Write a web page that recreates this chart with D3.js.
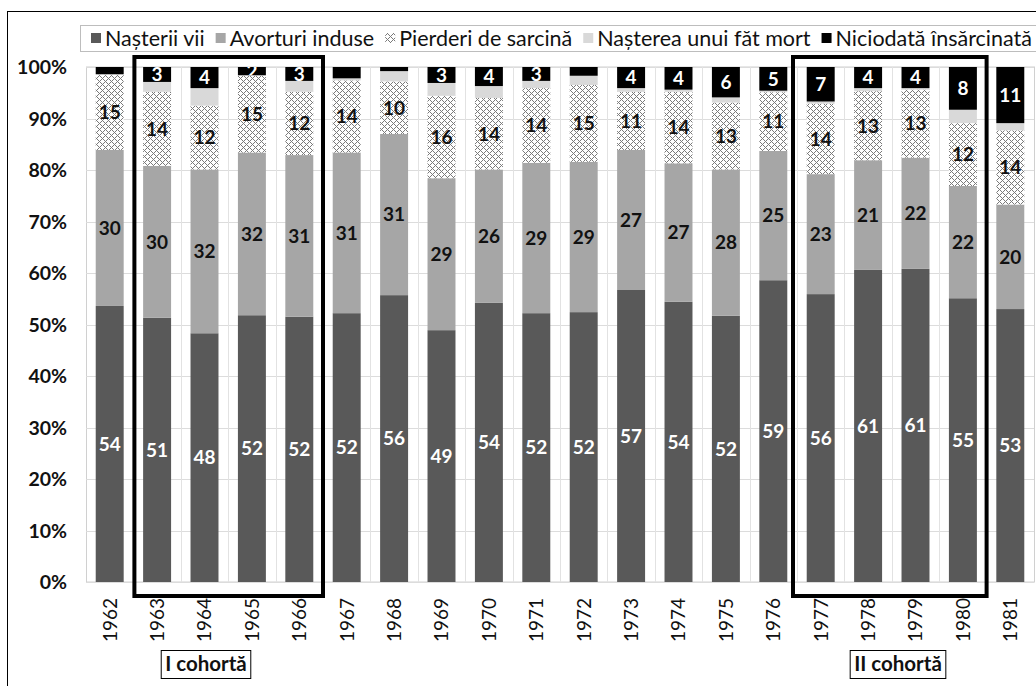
<!DOCTYPE html>
<html>
<head>
<meta charset="utf-8">
<script src="https://cdn.jsdelivr.net/npm/d3@7/dist/d3.min.js"></script>
<style>
  html, body { margin: 0; padding: 0; background: #fff; }
  svg { display: block; font-family: Lato, "Open Sans", sans-serif; }
</style>
</head>
<body>
<svg id="chart" width="1036" height="686"></svg>
<script>
// ---------- DATA ----------
const years = ["1962","1963","1964","1965","1966","1967","1968","1969","1970","1971",
               "1972","1973","1974","1975","1976","1977","1978","1979","1980","1981"];
const seriesNames = ["Nașterii vii", "Avorturi induse", "Pierderi de sarcină",
                     "Nașterea unui făt mort", "Niciodată însărcinată"];
const births     = [53.6,51.3,48.3,51.8,51.5,52.2,55.7,48.9,54.2,52.2,52.4,56.7,54.4,51.7,58.6,55.9,60.6,60.8,55.1,53.0];
const abortions  = [30.3,29.5,31.8,31.6,31.4,31.2,31.3,29.5,25.9,29.2,29.2,27.2,26.9,28.4,25.1,23.3,21.3,21.6,21.8,20.3];
const losses     = [14.6,14.4,12.4,14.9,12.3,14.0,10.2,16.0,13.9,14.5,14.9,11.3,13.9,13.0,11.4,13.7,13.4,13.2,12.2,14.4];
const stillbirth = [0.1,1.9,3.4,0.1,2.1,0.4,2.0,2.5,2.3,1.4,1.8,0.7,0.4,1.0,0.3,0.4,0.6,0.3,2.6,1.4];
const never      = [1.4,2.9,4.1,1.6,2.7,2.2,0.8,3.1,3.7,2.7,1.7,4.1,4.4,5.9,4.6,6.7,4.1,4.1,8.3,10.9];
// labels printed on the segments (null = no label)
const birthLabels    = [54,51,48,52,52,52,56,49,54,52,52,57,54,52,59,56,61,61,55,53];
const abortionLabels = [30,30,32,32,31,31,31,29,26,29,29,27,27,28,25,23,21,22,22,20];
const lossLabels     = [15,14,12,15,12,14,10,16,14,14,15,11,14,13,11,14,13,13,12,14];
const stillLabels    = years.map(() => null);
const neverLabels    = [null,3,4,2,3,null,null,3,4,3,null,4,4,6,5,7,4,4,8,11];
const yTicks = [0,10,20,30,40,50,60,70,80,90,100];
const cohorts = [
  { label: "I cohortă",  from: "1963", to: "1966" },
  { label: "II cohortă", from: "1977", to: "1980" }
];

// ---------- BUILD ----------
const keys = ["births","abortions","losses","stillbirth","never"];
const seriesData = [births, abortions, losses, stillbirth, never];
const seriesLabels = [birthLabels, abortionLabels, lossLabels, stillLabels, neverLabels];
const rows = years.map((y, i) => {
  const r = { year: y, i: i };
  keys.forEach((k, j) => r[k] = seriesData[j][i]);
  return r;
});
const fills = ["#595959", "#a6a6a6", "url(#dots)", "#d9d9d9", "#000000"];
const labelColors = ["#ffffff", "#111111", "#111111", "#111111", "#ffffff"];

const svg = d3.select("#chart");
const plot = { left: 86, right: 1034, top: 67, bottom: 582 };

// pattern for "Pierderi de sarcină"
const defs = svg.append("defs");
const pat = defs.append("pattern").attr("id", "dots")
  .attr("patternUnits", "userSpaceOnUse").attr("width", 6).attr("height", 6);
pat.append("rect").attr("width", 6).attr("height", 6).attr("fill", "#ffffff");
pat.selectAll("rect.d").data([[0,0],[1,1],[2,2],[3,3],[4,4],[5,5],[5,1],[4,2],[2,4],[1,5]])
  .enter().append("rect").attr("class","d")
  .attr("x", d => d[0]).attr("y", d => d[1]).attr("width", 1).attr("height", 1)
  .attr("fill", "#7a7a7a");

// outer border
svg.append("rect").attr("x", 7.5).attr("y", 11.5).attr("width", 1100).attr("height", 700)
  .attr("fill", "none").attr("stroke", "#000").attr("stroke-width", 1);

const x = d3.scaleBand().domain(years).range([plot.left, plot.right]).paddingInner(0.41).paddingOuter(0.205);
const step = x.step();
const y = d3.scaleLinear().domain([0, 100]).range([plot.bottom, plot.top]);

// plot area
svg.append("rect").attr("x", plot.left + 0.5).attr("y", plot.top)
  .attr("width", plot.right - plot.left).attr("height", plot.bottom - plot.top)
  .attr("fill", "none").attr("stroke", "#d0d0d0");

// horizontal grid
svg.append("g").selectAll("line").data(yTicks).enter().append("line")
  .attr("x1", plot.left).attr("x2", plot.right)
  .attr("y1", d => Math.round(y(d)) + 0.5).attr("y2", d => Math.round(y(d)) + 0.5)
  .attr("stroke", "#dcdcdc");
// vertical grid at category boundaries
svg.append("g").selectAll("line").data(years.slice(1)).enter().append("line")
  .attr("x1", d => Math.round(x(d) - (step - x.bandwidth()) / 2) + 0.5)
  .attr("x2", d => Math.round(x(d) - (step - x.bandwidth()) / 2) + 0.5)
  .attr("y1", plot.top).attr("y2", plot.bottom)
  .attr("stroke", "#e2e2e2");

// stacked bars
const stack = d3.stack().keys(keys)(rows);
const layers = svg.append("g").selectAll("g").data(stack).enter().append("g")
  .attr("fill", (d, i) => fills[i]);
layers.selectAll("rect").data(d => d).enter().append("rect")
  .attr("x", d => x(d.data.year))
  .attr("width", x.bandwidth())
  .attr("y", d => y(d[1]))
  .attr("height", d => Math.max(0, y(d[0]) - y(d[1])));

// clip paths (labels on the black segments are cut to the segment, as in 1965)
stack.forEach((layer, li) => {
  layer.forEach((d, i) => {
    defs.append("clipPath").attr("id", `clip-${li}-${i}`)
      .append("rect")
      .attr("x", x(d.data.year) - 5).attr("width", x.bandwidth() + 10)
      .attr("y", li === 4 ? y(d[1]) : y(d[1]) - 30)
      .attr("height", li === 4 ? y(d[0]) - y(d[1]) : y(d[0]) - y(d[1]) + 60);
  });
});

// segment labels
const lab = svg.append("g").attr("font-weight", 700).attr("font-size", 19)
  .attr("text-anchor", "middle");
stack.forEach((layer, li) => {
  layer.forEach((d, i) => {
    const t = seriesLabels[li][i];
    if (t === null || t === undefined) return;
    lab.append("text")
      .attr("clip-path", `url(#clip-${li}-${i})`)
      .attr("x", x(d.data.year) + x.bandwidth() / 2)
      .attr("y", (y(d[0]) + y(d[1])) / 2)
      .attr("dy", "0.36em")
      .attr("fill", labelColors[li])
      .text(t);
  });
});

// y axis labels
svg.append("g").attr("font-weight", 700).attr("font-size", 19.5).attr("text-anchor", "end")
  .selectAll("text").data(yTicks).enter().append("text")
  .attr("x", 67).attr("y", d => y(d)).attr("dy", "0.36em")
  .attr("fill", "#111").text(d => d + "%");

// x axis labels (rotated)
svg.append("g").attr("font-size", 19).attr("text-anchor", "end")
  .selectAll("text").data(years).enter().append("text")
  .attr("transform", d => `translate(${x(d) + x.bandwidth() / 2},${plot.bottom + 16}) rotate(-90)`)
  .attr("dy", "0.36em").attr("fill", "#111").text(d => d);

// cohort boxes
cohorts.forEach((c, ci) => {
  const x0 = x(c.from) - (step - x.bandwidth()) / 2 + (ci === 0 ? 1 : -4);
  const x1 = x(c.to) + x.bandwidth() + (step - x.bandwidth()) / 2;
  svg.append("rect").attr("x", x0).attr("y", 57).attr("width", x1 - x0).attr("height", 539)
    .attr("fill", "none").attr("stroke", "#000").attr("stroke-width", 4);
});
// cohort labels
const cohortCenters = [206, 898];
cohorts.forEach((c, ci) => {
  const g = svg.append("g");
  const t = g.append("text").attr("x", cohortCenters[ci]).attr("y", 664).attr("dy", "0.36em")
    .attr("text-anchor", "middle").attr("font-weight", 700).attr("font-size", 20.5)
    .attr("fill", "#111").text(c.label);
  const bb = t.node().getBBox();
  g.insert("rect", "text").attr("x", bb.x - 4).attr("y", 650.5)
    .attr("width", bb.width + 8).attr("height", 28)
    .attr("fill", "#fff").attr("stroke", "#000").attr("stroke-width", 1);
});

// legend
const lg = svg.append("g");
lg.append("rect").attr("x", 80.5).attr("y", 25.5).attr("width", 1000).attr("height", 26)
  .attr("fill", "#fff").attr("stroke", "#bdbdbd");
let lx = 91;
seriesNames.forEach((n, i) => {
  lg.append("rect").attr("x", lx).attr("y", 33).attr("width", 10).attr("height", 10)
    .attr("fill", fills[i]);
  const t = lg.append("text").attr("x", lx + 14).attr("y", 38.5).attr("dy", "0.36em")
    .attr("font-size", 21.5).attr("fill", "#111").text(n);
  lx += 14 + t.node().getComputedTextLength() + 11;
});
</script>
</body>
</html>
